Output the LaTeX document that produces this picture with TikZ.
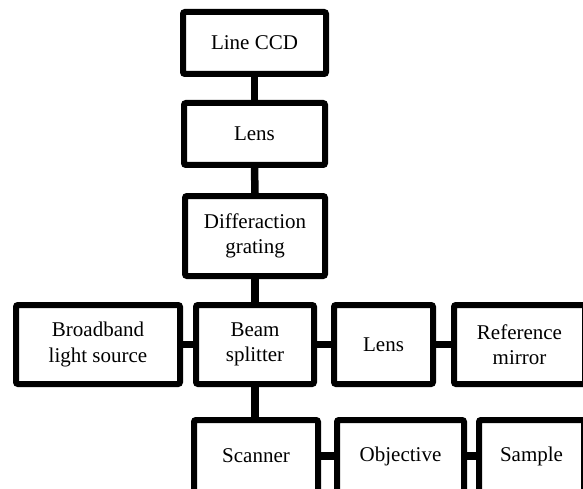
\documentclass[tikz,border=0pt]{standalone}
\usepackage{fontspec}
\setmainfont{Liberation Serif}
\begin{document}
\begin{tikzpicture}[x=1pt,y=-1pt,
  blockbox/.style={draw=black, line width=6pt, rounded corners=2pt, fill=white,
    align=center, inner sep=0pt, font=\fontsize{21}{25.5}\selectfont},
  link/.style={line width=7.5pt, black}]
\useasboundingbox (0,0) rectangle (583,489);
% optical path blocks
\node[blockbox, minimum width=143pt, minimum height=62pt] (ccd) at (254.5,43) {Line CCD};
\node[blockbox, minimum width=141pt, minimum height=62pt] (lensA) at (254.5,134) {Lens};
\node[blockbox, minimum width=140pt, minimum height=80pt] (grating) at (255,236) {Differaction\\grating};
\node[blockbox, minimum width=118pt, minimum height=79pt] (bs) at (255,344.5) {Beam\\splitter};
\node[blockbox, minimum width=164pt, minimum height=79pt] (src) at (98,344.5) {Broadband\\light source};
\node[blockbox, minimum width=99pt, minimum height=79pt] (lensB) at (383.5,344.5) {Lens};
\node[blockbox, minimum width=131pt, minimum height=79pt] (mirror) at (519.5,344.5) {Reference\\mirror};
\node[blockbox, minimum width=124pt, minimum height=72pt] (scan) at (256,456) {Scanner};
\node[blockbox, minimum width=127pt, minimum height=72pt] (obj) at (400.5,456) {Objective};
\node[blockbox, minimum width=105pt, minimum height=72pt] (sample) at (531.5,456) {Sample};
% connections
\draw[link] (ccd.south) -- (lensA.north);
\draw[link] (lensA.south) -- (grating.north);
\draw[link] (grating.south) -- (bs.north);
\draw[link] (src.east) -- (bs.west);
\draw[link] (bs.east) -- (lensB.west);
\draw[link] (lensB.east) -- (mirror.west);
\draw[link] (bs.south) -- (bs.south |- scan.north);
\draw[link] (scan.east) -- (obj.west);
\draw[link] (obj.east) -- (sample.west);
\end{tikzpicture}
\end{document}
